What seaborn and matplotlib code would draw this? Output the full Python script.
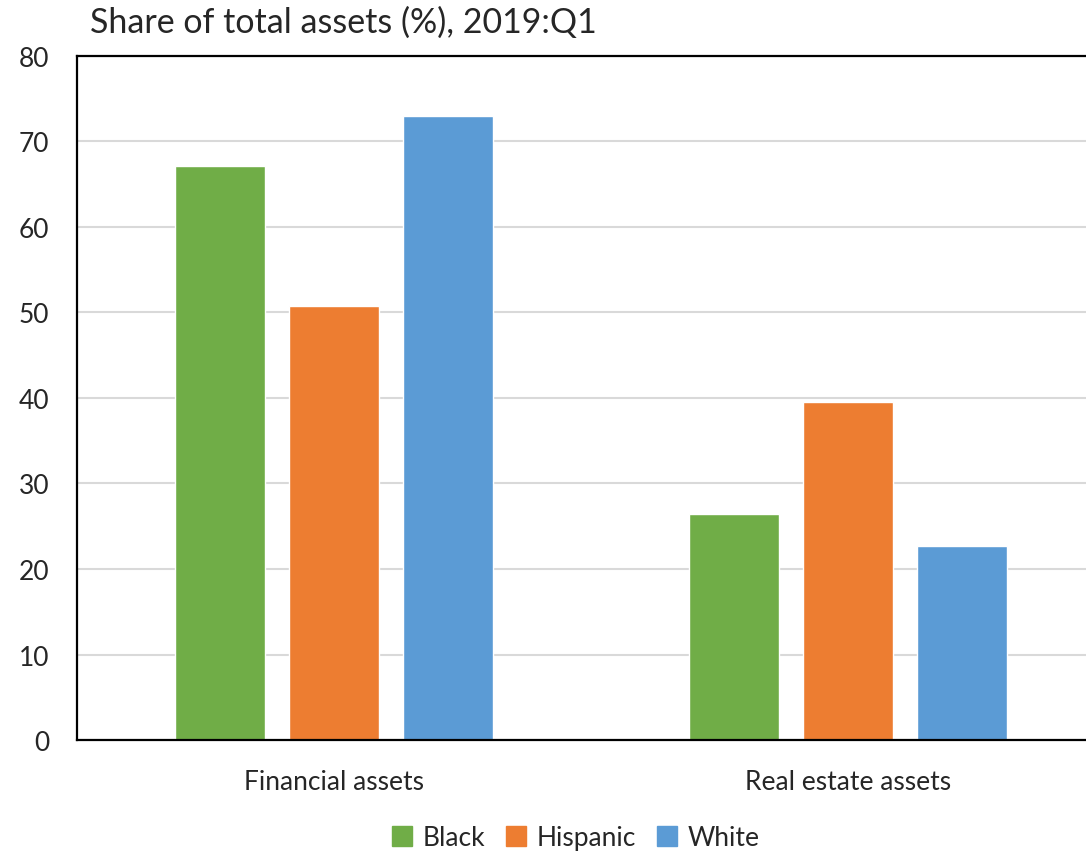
import pandas as pd
import seaborn as sns
import matplotlib.pyplot as plt

# data
categories = ["Financial assets", "Real estate assets"]
groups = ["Black", "Hispanic", "White"]
black = [67.1, 26.4]
hispanic = [50.8, 39.5]
white = [73.0, 22.7]
yticks = [0, 10, 20, 30, 40, 50, 60, 70, 80]

df = pd.DataFrame({
    "category": categories * 3,
    "group": [g for g in groups for _ in categories],
    "share": black + hispanic + white,
})

palette = {"Black": "#70AD47", "Hispanic": "#ED7D31", "White": "#5B9BD5"}

sns.set_theme(style="white")
plt.rcParams["font.family"] = ["Lato", "DejaVu Sans"]

fig = plt.figure(figsize=(10.86, 8.54), dpi=100)
ax = fig.add_axes([0.0709, 0.1323, 0.9466, 0.801])

sns.barplot(data=df, x="category", y="share", hue="group", order=categories,
            hue_order=groups, palette=palette, width=0.665, gap=0.21,
            saturation=1, ax=ax, legend=False)

ax.set_xlim(-0.5, 1.5)
ax.set_ylim(0, 80)
ax.set_yticks(yticks)
ax.yaxis.grid(True, color="#D9D9D9", linewidth=1.5)
ax.set_axisbelow(True)
ax.set_xlabel("")
ax.set_ylabel("")
ax.tick_params(axis="y", labelsize=19, pad=20, length=0)
ax.tick_params(axis="x", labelsize=19, pad=21, length=0)
for s in ["left", "bottom", "top"]:
    ax.spines[s].set_color("black")
    ax.spines[s].set_linewidth(1.6)
ax.spines["right"].set_visible(False)

fig.text(0.083, 0.961, "Share of total assets (%), 2019:Q1", fontsize=24.5,
         ha="left", va="baseline")

handles = [plt.Rectangle((0, 0), 1, 1, color=palette[g]) for g in groups]
fig.legend(handles, groups, loc="center", bbox_to_anchor=(0.53, 0.018),
           ncol=3, frameon=False, fontsize=19, handlelength=0.75,
           handleheight=0.75, handletextpad=0.4, columnspacing=0.8)

fig.savefig("out.png", dpi=100)
